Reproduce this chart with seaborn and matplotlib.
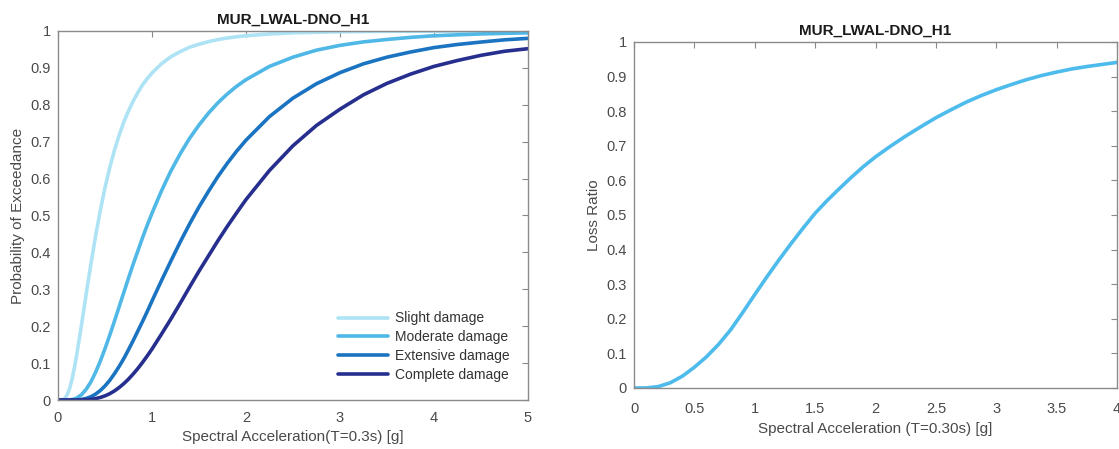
import numpy as np
import pandas as pd
import matplotlib
matplotlib.use("Agg")
import matplotlib.pyplot as plt
import seaborn as sns

# Fragility curves (left panel)
sa_frag = [0.0, 0.05, 0.075, 0.1, 0.125, 0.15, 0.175, 0.2,
           0.25, 0.3, 0.35, 0.4, 0.45, 0.5,
           0.55, 0.6, 0.65, 0.7, 0.75, 0.8, 0.85, 0.9, 0.95,
           1.0, 1.1, 1.2, 1.3, 1.4, 1.5, 1.6, 1.7, 1.8, 1.9, 2.0,
           2.25, 2.5, 2.75, 3.0, 3.25, 3.5, 3.75, 4.0, 4.25, 4.5, 4.75, 5.0]
slight = [0.0, 0.0007, 0.0047, 0.015, 0.032, 0.057, 0.0876, 0.123,
          0.203, 0.287, 0.368, 0.444, 0.513, 0.575,
          0.629, 0.676, 0.717, 0.753, 0.783, 0.810, 0.833, 0.854, 0.871,
          0.886, 0.911, 0.930, 0.944, 0.956, 0.964, 0.971, 0.9766, 0.981, 0.9843, 0.987,
          0.992, 0.995, 0.9965, 0.998, 0.9985, 0.999, 0.9992, 0.9994, 0.9995, 0.9997, 0.9998, 0.9998]
moderate = [0.0, 0.0, 0.0, 0.0001, 0.0005, 0.0014, 0.003, 0.0055,
            0.0144, 0.029, 0.049, 0.075, 0.105, 0.139,
            0.175, 0.213, 0.252, 0.291, 0.330, 0.368, 0.404, 0.440, 0.474,
            0.506, 0.566, 0.620, 0.667, 0.709, 0.745, 0.777, 0.805, 0.829, 0.850, 0.868,
            0.904, 0.929, 0.948, 0.961, 0.9704, 0.977, 0.9827, 0.987, 0.9896, 0.992, 0.9936, 0.995]
extensive = [0.0, 0.0, 0.0, 0.0, 0.0, 0.0001, 0.0002, 0.0005,
             0.0017, 0.0043, 0.0089, 0.016, 0.0256, 0.038,
             0.053, 0.071, 0.0906, 0.112, 0.136, 0.161, 0.187, 0.213, 0.240,
             0.268, 0.323, 0.376, 0.428, 0.477, 0.523, 0.565, 0.605, 0.641, 0.674, 0.704,
             0.768, 0.818, 0.857, 0.887, 0.911, 0.929, 0.943, 0.955, 0.9634, 0.970, 0.976, 0.980]
complete = [0.0, 0.0, 0.0, 0.0, 0.0, 0.0, 0.0, 0.0,
            0.0003, 0.0008, 0.0019, 0.0038, 0.0069, 0.0112,
            0.017, 0.0245, 0.0336, 0.0443, 0.0565, 0.0704, 0.0855, 0.102, 0.1196,
            0.138, 0.178, 0.219, 0.262, 0.306, 0.349, 0.390, 0.431, 0.470, 0.507, 0.543,
            0.622, 0.689, 0.744, 0.788, 0.827, 0.858, 0.883, 0.904, 0.920, 0.934, 0.945, 0.952]
damage_states = ["Slight damage", "Moderate damage", "Extensive damage", "Complete damage"]
damage_colors = ["#aee3f5", "#4fb8e6", "#1b74c1", "#262f8e"]

# Vulnerability (loss ratio) curve (right panel)
sa_loss = [0.0, 0.1, 0.2, 0.3, 0.4, 0.5, 0.6, 0.7, 0.8, 0.9, 1.0, 1.1, 1.2, 1.3, 1.4, 1.5,
           1.6, 1.7, 1.8, 1.9, 2.0, 2.125, 2.25, 2.375, 2.5, 2.625, 2.75, 2.875, 3.0,
           3.125, 3.25, 3.375, 3.5, 3.625, 3.75, 3.875, 4.0]
loss_ratio = [0.0, 0.0, 0.004, 0.015, 0.034, 0.060, 0.090, 0.126, 0.168, 0.218, 0.270, 0.321,
              0.370, 0.417, 0.462, 0.505, 0.542, 0.576, 0.609, 0.640, 0.668, 0.699, 0.728,
              0.755, 0.781, 0.804, 0.826, 0.845, 0.862, 0.877, 0.891, 0.903, 0.913, 0.922,
              0.929, 0.935, 0.941]
loss_color = "#4dbbec"

TITLE = "MUR_LWAL-DNO_H1"
GREY = "#4a4a4a"

frag_df = pd.DataFrame({
    "Sa": sa_frag * 4,
    "PoE": slight + moderate + extensive + complete,
    "state": sum([[s] * len(sa_frag) for s in damage_states], []),
})
loss_df = pd.DataFrame({"Sa": sa_loss, "LR": loss_ratio})

sns.set_theme(style="white")
plt.rcParams["font.family"] = ["Liberation Sans", "DejaVu Sans"]
plt.rcParams["axes.edgecolor"] = "#8a8a8a"
plt.rcParams["axes.linewidth"] = 1.0

fig = plt.figure(figsize=(11.19, 4.49), dpi=100)
ax1 = fig.add_axes([0.0518, 0.1091, 0.4200, 0.8219])
ax2 = fig.add_axes([0.5666, 0.1359, 0.4316, 0.7706])

sns.lineplot(data=frag_df, x="Sa", y="PoE", hue="state", hue_order=damage_states,
             palette=damage_colors, linewidth=2.6, ax=ax1)
sns.lineplot(data=loss_df, x="Sa", y="LR", color=loss_color, linewidth=2.6, ax=ax2)


def style_axes(ax, xlim, xticks, xticklabels, xlabel, ylabel, xpad, xlabelpad):
    ax.set_xlim(*xlim)
    ax.set_ylim(0, 1)
    ax.set_xticks(xticks)
    ax.set_xticklabels(xticklabels)
    ax.set_yticks(np.arange(0, 1.01, 0.1))
    ax.set_yticklabels(["0", "0.1", "0.2", "0.3", "0.4", "0.5", "0.6", "0.7", "0.8", "0.9", "1"])
    ax.tick_params(direction="in", length=4, width=0.8, color="#8a8a8a",
                   top=True, right=True, labelsize=10.5, labelcolor=GREY, pad=5)
    ax.tick_params(axis="x", pad=xpad)
    ax.set_xlabel(xlabel, fontsize=11, color=GREY, labelpad=xlabelpad)
    ax.set_ylabel(ylabel, fontsize=11, color=GREY, labelpad=4)
    ax.set_title(TITLE, fontsize=11, fontweight="bold", color="#1a1a1a", pad=5)
    for sp in ax.spines.values():
        sp.set_visible(True)


style_axes(ax1, (0, 5), [0, 1, 2, 3, 4, 5], ["0", "1", "2", "3", "4", "5"],
           "Spectral Acceleration(T=0.3s) [g]", "Probability of Exceedance", 8, 3.5)
style_axes(ax2, (0, 4), [0, 0.5, 1, 1.5, 2, 2.5, 3, 3.5, 4],
           ["0", "0.5", "1", "1.5", "2", "2.5", "3", "3.5", "4"],
           "Spectral Acceleration (T=0.30s) [g]", "Loss Ratio", 10, 4.5)

leg = ax1.legend(loc="lower right", frameon=False, fontsize=10, handlelength=3.6,
                 handletextpad=0.5, labelspacing=0.35, borderaxespad=0.9)
for txt in leg.get_texts():
    txt.set_color("#333333")
for line in leg.get_lines():
    line.set_linewidth(2.6)

fig.savefig("out.png", dpi=100, facecolor="white")
